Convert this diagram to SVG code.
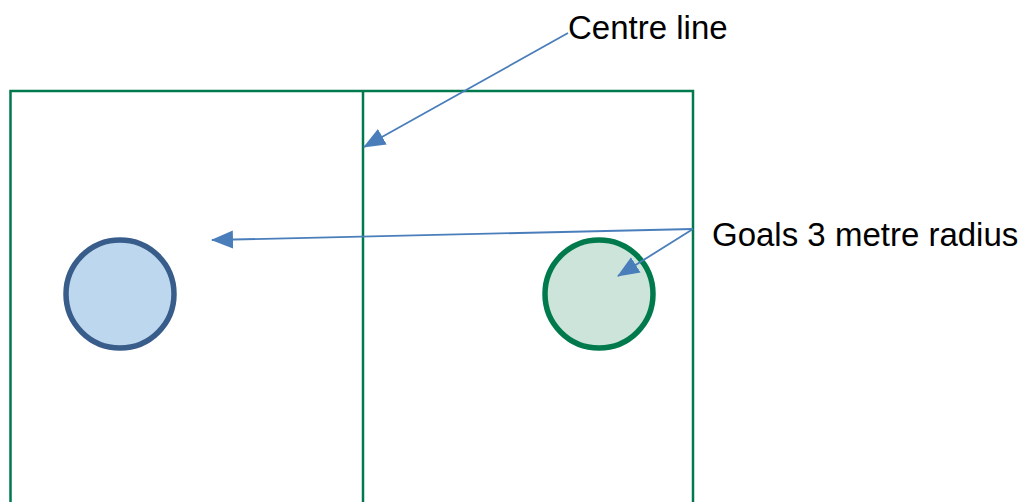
<svg xmlns="http://www.w3.org/2000/svg" width="1026" height="502" viewBox="0 0 1026 502">
<style>
.field{fill:none;stroke:#007A4D;stroke-width:2.5}
.conn{fill:none;stroke:#4A7EBB;stroke-width:1.8}
.lbl{font-family:"Liberation Sans",Arial,sans-serif;font-size:33px;fill:#000}
</style>
<defs>
<marker id="ah" markerUnits="userSpaceOnUse" markerWidth="22" markerHeight="20" refX="21" refY="9" orient="auto" viewBox="0 0 22 18">
<path d="M0,0 L22,9 L0,18 Z" fill="#4A7EBB"/>
</marker>
</defs>
<rect width="1026" height="502" fill="#fff"/>
<g id="field">
<path class="field" d="M10.5,502 V91 H693 V502"/>
<path class="field" d="M363,91 V502"/>
</g>
<g id="goal-left">
<circle cx="120" cy="294" r="54" fill="#BDD7EE" stroke="#385D8A" stroke-width="5.5"/>
</g>
<g id="goal-right">
<circle cx="599" cy="294" r="54" fill="#CDE4DB" stroke="#007A4D" stroke-width="5.5"/>
</g>
<g id="label-centre">
<text class="lbl" x="568" y="39">Centre line</text>
</g>
<g id="label-goals">
<text class="lbl" x="712" y="246">Goals 3 metre radius</text>
</g>
<g id="connectors">
<line class="conn" x1="568" y1="33" x2="364" y2="147" marker-end="url(#ah)"/>
<line class="conn" x1="693" y1="229" x2="212" y2="240" marker-end="url(#ah)"/>
<line class="conn" x1="693" y1="229" x2="618" y2="276" marker-end="url(#ah)"/>
</g>
</svg>
